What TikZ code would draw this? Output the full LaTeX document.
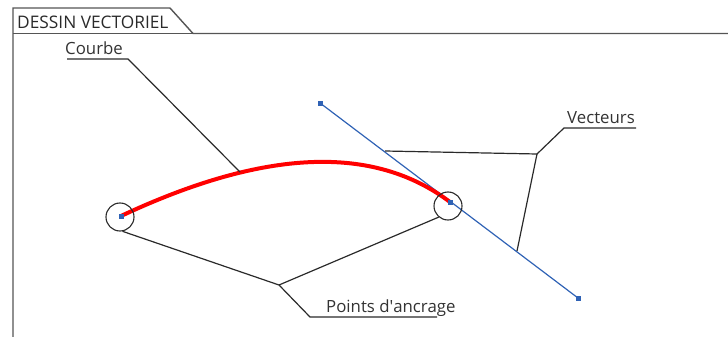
\documentclass[tikz,border=0pt]{standalone}
\usepackage{fontspec}
\setmainfont{Open Sans}
\definecolor{frame}{HTML}{555555}
\definecolor{lead}{HTML}{2A2A2A}
\definecolor{vblue}{HTML}{2F62B5}
\definecolor{txt}{HTML}{333333}
\begin{document}
\begin{tikzpicture}[x=1pt,y=-1pt,
  lbl/.style={inner sep=0pt,text=txt,font=\fontsize{16.8}{18}\selectfont,anchor=base west},
  leader/.style={draw=lead,line width=1.2pt},
  ring/.style={circle,draw=lead,line width=1.1pt,minimum size=28pt,inner sep=0pt},
  pt/.style={fill=vblue,minimum size=5pt,inner sep=0pt}]
\useasboundingbox (0,0) rectangle (728,337);
% frame / tab
\draw[frame,line width=1.4pt] (13,337) -- (13,8) -- (170,8) -- (193,33.5) -- (728,33.5);
\draw[frame,line width=1.4pt] (13,33.5) -- (193,33.5);
\node[lbl,font=\fontsize{17.3}{19}\selectfont,text=lead] (title) at (17,29) {DESSIN VECTORIEL};
% anchor points and handles
\coordinate (A) at (121,216);
\coordinate (B) at (450,202);
\node[pt] (h1) at (320,103) {};
\node[pt] (h2) at (578,298) {};
\draw[vblue,line width=1.2pt] (h1.center) -- (h2.center);
% curve
\draw[red,line width=4pt] (A) .. controls (264,149) and (373,144) .. (B);
\node[pt] (pa) at (A) {};
\node[pt] (pb) at (B) {};
\node[ring] (ca) at (120,217) {};
\node[ring] (cb) at (448,206) {};
% Courbe
\node[lbl] (courbe) at (65,55) {Courbe};
\coordinate (c1) at (67,59);
\coordinate (c2) at (128,59);
\coordinate (c3) at (240,172);
\draw[leader] (c1) -- (c2) -- (c3);
% Vecteurs
\node[lbl] (vect) at (567,123) {Vecteurs};
\coordinate (v1) at (636,128);
\coordinate (v2) at (564,128);
\coordinate (vj) at (537,154);
\coordinate (vb1) at (385,151);
\coordinate (vb2) at (517,251);
\draw[leader] (v1) -- (v2) -- (vj) -- (vb1);
\draw[leader] (vj) -- (vb2);
% Points d'ancrage
\node[lbl] (pts) at (326,312.5) {Points d\textquotesingle ancrage};
\coordinate (p1) at (437,317);
\coordinate (p2) at (310,317);
\coordinate (pj) at (279,285);
\draw[leader] (p1) -- (p2) -- (pj) -- (ca.-80);
\draw[leader] (pj) -- (cb.-130);
\end{tikzpicture}
\end{document}
